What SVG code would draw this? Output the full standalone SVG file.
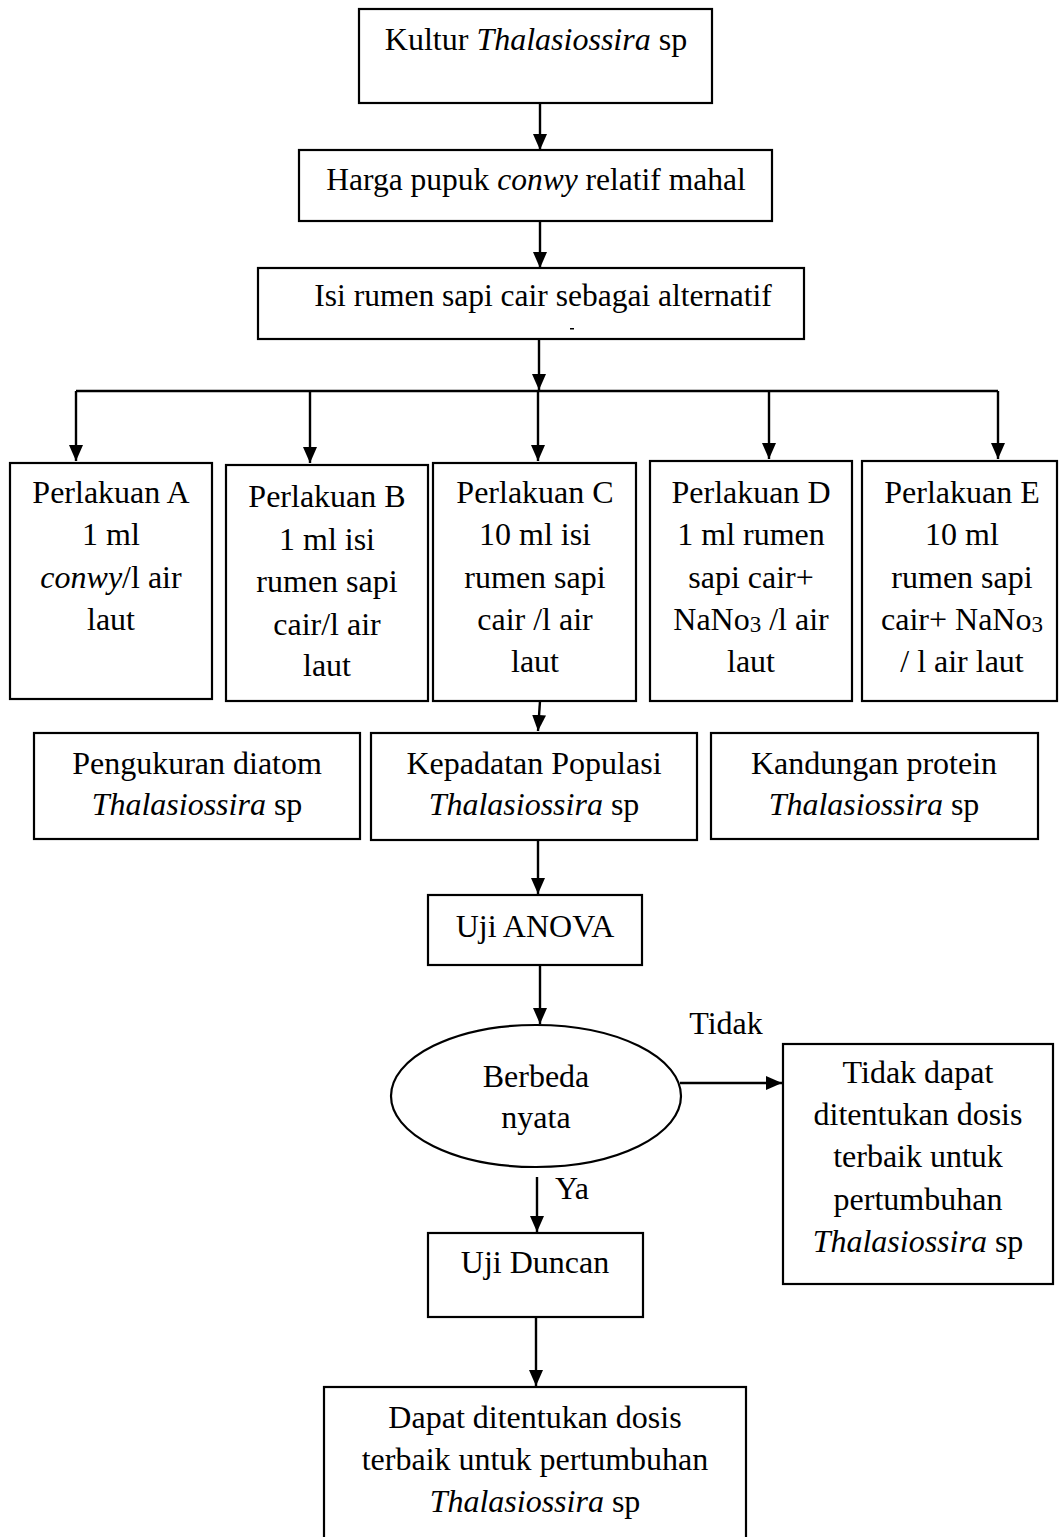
<svg xmlns="http://www.w3.org/2000/svg" width="1059" height="1537" viewBox="0 0 1059 1537">
<style>
.box{fill:#fff;stroke:#000;stroke-width:2.2}
.t{font-family:"Liberation Serif","Times New Roman",serif;font-size:32px;text-anchor:middle;fill:#000}
.c{font-size:31.5px}
.i{font-style:italic}
.ln{stroke:#000;stroke-width:2.4;fill:none}
.ar{stroke:#000;stroke-width:2.4;fill:none;marker-end:url(#ah)}
</style>
<defs>
<marker id="ah" viewBox="0 0 16 14" refX="16" refY="7" markerWidth="16" markerHeight="14" markerUnits="userSpaceOnUse" orient="auto">
<path d="M0,0 L16,7 L0,14 z" fill="#000"/>
</marker>
</defs>
<rect width="1059" height="1537" fill="#fff"/>

<g id="connectors">
<line class="ar" x1="540" y1="103" x2="540" y2="150"/>
<line class="ar" x1="540" y1="221" x2="540" y2="268"/>
<line class="ar" x1="539" y1="339" x2="539" y2="390"/>
<line class="ln" x1="76" y1="391" x2="998" y2="391"/>
<line class="ar" x1="76" y1="391" x2="76" y2="461"/>
<line class="ar" x1="310" y1="391" x2="310" y2="463"/>
<line class="ar" x1="538" y1="391" x2="538" y2="461"/>
<line class="ar" x1="769" y1="391" x2="769" y2="459"/>
<line class="ar" x1="998" y1="391" x2="998" y2="459"/>
<line class="ar" x1="540" y1="701" x2="538" y2="731"/>
<line class="ar" x1="538" y1="840" x2="538" y2="894"/>
<line class="ar" x1="540" y1="965" x2="540" y2="1024"/>
<line class="ar" x1="680" y1="1083" x2="782" y2="1083"/>
<line class="ar" x1="537" y1="1177" x2="537" y2="1232"/>
<line class="ar" x1="536" y1="1317" x2="536" y2="1386"/>
<text class="t" x="726" y="1034">Tidak</text>
<text class="t" x="572" y="1199">Ya</text>
</g>

<g id="kultur">
<rect class="box" x="359" y="9" width="353" height="94"/>
<text class="t" x="536" y="50">Kultur <tspan class="i">Thalasiossira</tspan> sp</text>
</g>

<g id="harga">
<rect class="box" x="299" y="150" width="473" height="71"/>
<text class="t c" x="536" y="190">Harga pupuk <tspan class="i">conwy</tspan> relatif mahal</text>
</g>

<g id="isi">
<rect class="box" x="258" y="268" width="546" height="71"/>
<text class="t c" x="543" y="306">Isi rumen sapi cair sebagai alternatif</text>
<rect x="570" y="328" width="4" height="1.5" fill="#000"/>
</g>

<g id="perlakuanA">
<rect class="box" x="10" y="463" width="202" height="236"/>
<text class="t" x="111" y="503">Perlakuan A</text>
<text class="t" x="111" y="545">1 ml</text>
<text class="t" x="111" y="588"><tspan class="i">conwy</tspan>/l air</text>
<text class="t" x="111" y="630">laut</text>
</g>

<g id="perlakuanB">
<rect class="box" x="226" y="465" width="202" height="236"/>
<text class="t" x="327" y="507">Perlakuan B</text>
<text class="t" x="327" y="550">1 ml isi</text>
<text class="t" x="327" y="592">rumen sapi</text>
<text class="t" x="327" y="635">cair/l air</text>
<text class="t" x="327" y="676">laut</text>
</g>

<g id="perlakuanC">
<rect class="box" x="433" y="463" width="203" height="238"/>
<text class="t" x="535" y="503">Perlakuan C</text>
<text class="t" x="535" y="545">10 ml isi</text>
<text class="t" x="535" y="588">rumen sapi</text>
<text class="t" x="535" y="630">cair /l air</text>
<text class="t" x="535" y="672">laut</text>
</g>

<g id="perlakuanD">
<rect class="box" x="650" y="461" width="202" height="240"/>
<text class="t" x="751" y="503">Perlakuan D</text>
<text class="t" x="751" y="545">1 ml rumen</text>
<text class="t" x="751" y="588">sapi cair+</text>
<text class="t" x="751" y="630">NaNo<tspan font-size="23" dy="2">3</tspan><tspan dy="-2"> /l air</tspan></text>
<text class="t" x="751" y="672">laut</text>
</g>

<g id="perlakuanE">
<rect class="box" x="862" y="461" width="195" height="240"/>
<text class="t" x="962" y="503">Perlakuan E</text>
<text class="t" x="962" y="545">10 ml</text>
<text class="t" x="962" y="588">rumen sapi</text>
<text class="t" x="962" y="630">cair+ NaNo<tspan font-size="23" dy="2">3</tspan></text>
<text class="t" x="962" y="672">/ l air laut</text>
</g>

<g id="pengukuran">
<rect class="box" x="34" y="733" width="326" height="106"/>
<text class="t" x="197" y="774">Pengukuran diatom</text>
<text class="t" x="197" y="815"><tspan class="i">Thalasiossira</tspan> sp</text>
</g>

<g id="kepadatan">
<rect class="box" x="371" y="733" width="326" height="107"/>
<text class="t" x="534" y="774">Kepadatan Populasi</text>
<text class="t" x="534" y="815"><tspan class="i">Thalasiossira</tspan> sp</text>
</g>

<g id="kandungan">
<rect class="box" x="711" y="733" width="327" height="106"/>
<text class="t" x="874" y="774">Kandungan protein</text>
<text class="t" x="874" y="815"><tspan class="i">Thalasiossira</tspan> sp</text>
</g>

<g id="anova">
<rect class="box" x="428" y="895" width="214" height="70"/>
<text class="t" x="535" y="937">Uji ANOVA</text>
</g>

<g id="berbeda">
<ellipse class="box" cx="536" cy="1096" rx="145" ry="71"/>
<text class="t" x="536" y="1087">Berbeda</text>
<text class="t" x="536" y="1128">nyata</text>
</g>

<g id="tidakdapat">
<rect class="box" x="783" y="1044" width="270" height="240"/>
<text class="t" x="918" y="1083">Tidak dapat</text>
<text class="t" x="918" y="1125">ditentukan dosis</text>
<text class="t" x="918" y="1167">terbaik untuk</text>
<text class="t" x="918" y="1210">pertumbuhan</text>
<text class="t" x="918" y="1252"><tspan class="i">Thalasiossira</tspan> sp</text>
</g>

<g id="duncan">
<rect class="box" x="428" y="1233" width="215" height="84"/>
<text class="t" x="535" y="1273">Uji Duncan</text>
</g>

<g id="dapat">
<rect class="box" x="324" y="1387" width="422" height="160"/>
<text class="t" x="535" y="1428">Dapat ditentukan dosis</text>
<text class="t" x="535" y="1470">terbaik untuk pertumbuhan</text>
<text class="t" x="535" y="1512"><tspan class="i">Thalasiossira</tspan> sp</text>
</g>
</svg>
